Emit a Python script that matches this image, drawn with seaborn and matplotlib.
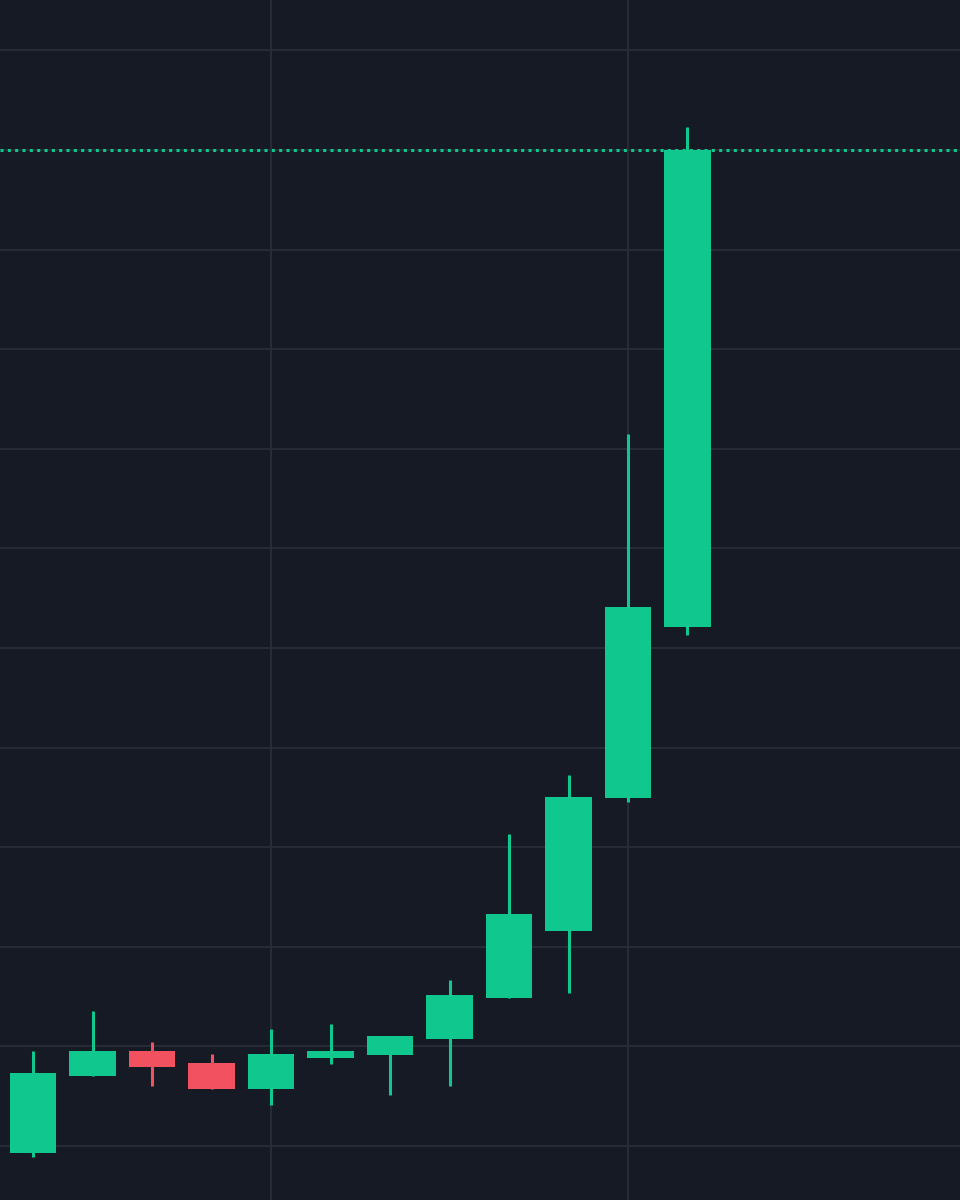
import matplotlib
matplotlib.use("Agg")
import matplotlib.pyplot as plt
import seaborn as sns
import numpy as np

# OHLC values (price units, grid every 1.0)
opens = [-0.07, 0.70, 0.95, 0.83, 0.57, 0.88, 0.91, 1.07, 1.49, 2.16, 3.49, 5.21]
highs = [0.95, 1.36, 1.04, 0.92, 1.17, 1.23, 1.10, 1.67, 3.13, 3.72, 7.15, 10.23]
lows = [-0.11, 0.70, 0.60, 0.57, 0.41, 0.82, 0.51, 0.60, 1.49, 1.54, 3.45, 5.13]
closes = [0.73, 0.95, 0.79, 0.57, 0.92, 0.95, 1.10, 1.52, 2.33, 3.50, 5.41, 10.00]
last_price = 10.00

up_color = "#10c78e"
down_color = "#f2525f"
bg_color = "#161a25"
grid_color = "#262b36"

sns.set_theme(style="dark", rc={"axes.facecolor": bg_color, "figure.facecolor": bg_color})

fig = plt.figure(figsize=(9.6, 12), dpi=100)
ax = fig.add_axes([0, 0, 1, 1])
ax.set_facecolor(bg_color)

x = np.arange(len(opens))
o = np.array(opens)
c = np.array(closes)
colors = [up_color if cc >= oo else down_color for oo, cc in zip(o, c)]

##grid
for yv in range(0, 12):
    ax.axhline(yv, color=grid_color, lw=1.5, zorder=0)
for xv in [4, 10]:
    ax.axvline(xv, color=grid_color, lw=1.5, zorder=0)

##last price line
ax.axhline(last_price, color=up_color, lw=2.2, linestyle=(0, (1.0, 1.4)), zorder=1)

##wicks
ax.vlines(x, lows, highs, colors=colors, lw=2.2, zorder=2)

##bodies
bottoms = np.minimum(o, c)
heights = np.maximum(np.abs(c - o), 0.06)
ax.bar(x, heights, bottom=bottoms, width=0.78, color=colors, edgecolor="none", zorder=3)

ax.set_xlim(-0.555, 15.58)
ax.set_ylim(-0.542, 11.506)
ax.set_xticks([])
ax.set_yticks([])
for s in ax.spines.values():
    s.set_visible(False)

fig.savefig("out.png", dpi=100, facecolor=bg_color)
